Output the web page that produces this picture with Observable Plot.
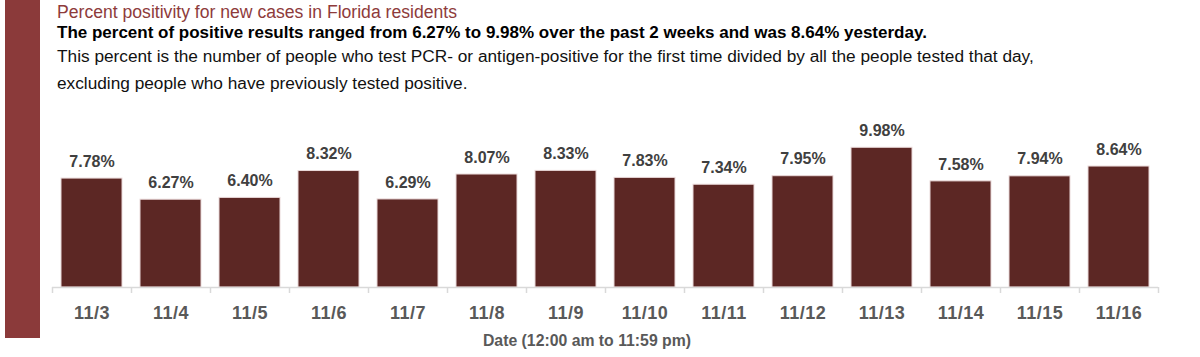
<!DOCTYPE html>
<html>
<head>
<meta charset="utf-8">
<script src="https://cdn.jsdelivr.net/npm/d3@7"></script>
<script src="https://cdn.jsdelivr.net/npm/@observablehq/plot@0.6"></script>
<style>
  html, body { margin: 0; padding: 0; background: #fff; }
  body { width: 1200px; height: 357px; position: relative; overflow: hidden; }
  #redbar { position: absolute; left: 5px; top: 0; width: 35px; height: 338px; background: #8B3A3A; }
  .line { position: absolute; left: 57px; line-height: 1; white-space: nowrap; font-family: "Liberation Sans", Arial, sans-serif; }
  #title { top: 3.6px; font-size: 17.6px; color: #8E3B3B; }
  #sub { top: 23.6px; font-size: 17px; font-weight: bold; color: #000; }
  #desc1 { top: 48.4px; font-size: 17.25px; color: #111; }
  #desc2 { top: 75.4px; font-size: 17.25px; color: #111; }
  #chart { position: absolute; left: 0; top: 105px; }
  #chart g[aria-label="x-axis tick label"] text { letter-spacing: 0.5px; }
  #xlabel { position: absolute; top: 333px; left: 437px; width: 300px; text-align: center; white-space: nowrap; line-height: 1; font-family: "Liberation Sans", Arial, sans-serif; font-weight: bold; font-size: 15.8px; color: #595959; }
</style>
</head>
<body>
<div id="redbar"></div>
<div class="line" id="title">Percent positivity for new cases in Florida residents</div>
<div class="line" id="sub">The percent of positive results ranged from 6.27% to 9.98% over the past 2 weeks and was 8.64% yesterday.</div>
<div class="line" id="desc1">This percent is the number of people who test PCR- or antigen-positive for the first time divided by all the people tested that day,</div>
<div class="line" id="desc2">excluding people who have previously tested positive.</div>
<div id="chart"></div>
<div id="xlabel">Date (12:00 am to 11:59 pm)</div>
<script>
const dates = ["11/3","11/4","11/5","11/6","11/7","11/8","11/9","11/10","11/11","11/12","11/13","11/14","11/15","11/16"];
const positivity = [7.78, 6.27, 6.40, 8.32, 6.29, 8.07, 8.33, 7.83, 7.34, 7.95, 9.98, 7.58, 7.94, 8.64];

const data = dates.map((d, i) => ({date: d, value: positivity[i]}));

const W = 1200, mL = 52, mR = 42;
const step = (W - mL - mR) / dates.length;

const chart = Plot.plot({
  width: W,
  height: 225,
  marginLeft: mL,
  marginRight: mR,
  marginTop: 42,
  marginBottom: 43,
  style: {fontFamily: "'Liberation Sans', Arial, sans-serif", background: "transparent"},
  x: {domain: dates, paddingInner: 0.23, paddingOuter: 0.115, label: null},
  y: {domain: [0, 10], axis: null},
  marks: [
    Plot.barY(data, {x: "date", y: "value", fill: "#5C2724", stroke: "#ead9d9", strokeWidth: 1}),
    Plot.ruleY([0], {stroke: "#d9d9d9", strokeWidth: 1.5}),
    Plot.ruleX(dates, {x: d => d, y1: 0, y2: -0.43, dx: -step / 2, stroke: "#d9d9d9", strokeWidth: 1.5}),
    Plot.ruleX([dates[dates.length - 1]], {x: d => d, y1: 0, y2: -0.43, dx: step / 2, stroke: "#d9d9d9", strokeWidth: 1.5}),
    Plot.text(data, {x: "date", y: "value", text: d => d.value.toFixed(2) + "%", dy: -17, fontSize: 16, fontWeight: "bold", fill: "#404040"}),
    Plot.axisX({tickSize: 0, tickPadding: 18.5, fontSize: 18, fontWeight: "bold", fill: "#595959", label: null})
  ]
});
document.getElementById("chart").appendChild(chart);
</script>
</body>
</html>
